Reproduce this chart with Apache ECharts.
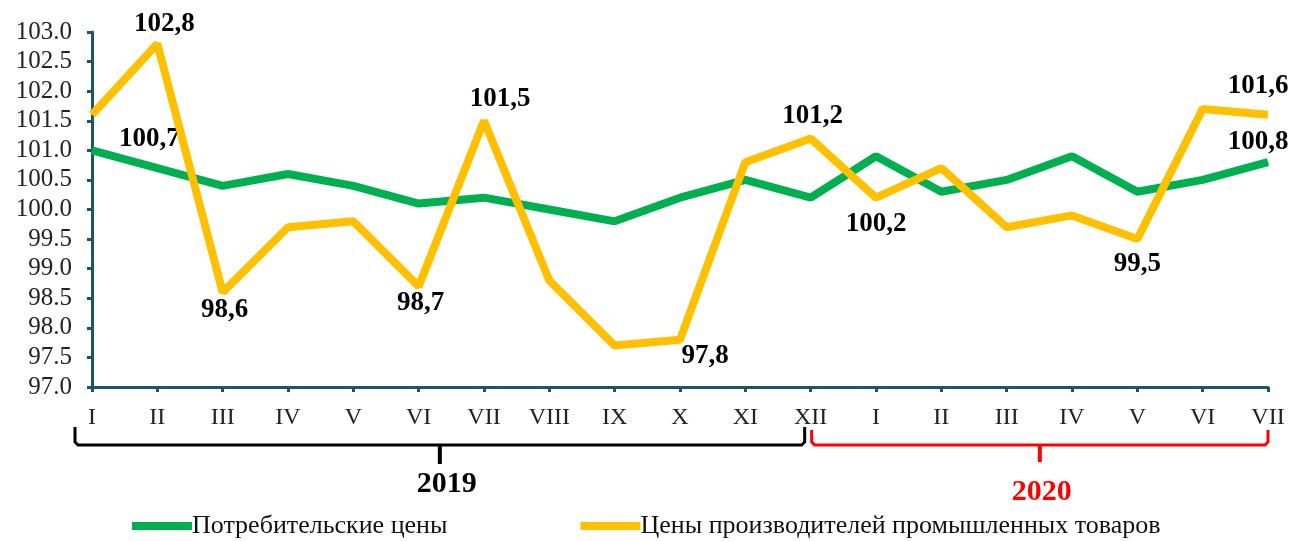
<!DOCTYPE html>
<html>
<head>
<meta charset="utf-8">
<script src="https://cdn.jsdelivr.net/npm/echarts@6/dist/echarts.min.js"></script>
<style>
  html, body { margin: 0; padding: 0; background: #fff; }
  #chart { width: 1293px; height: 541px; }
</style>
</head>
<body>
<div id="chart"></div>
<script>
const months = ['I', 'II', 'III', 'IV', 'V', 'VI', 'VII', 'VIII', 'IX', 'X', 'XI', 'XII',
  'I', 'II', 'III', 'IV', 'V', 'VI', 'VII']
const consumer = [101.0, 100.7, 100.4, 100.6, 100.4, 100.1, 100.2, 100.0, 99.8, 100.2, 100.5, 100.2,
  100.9, 100.3, 100.5, 100.9, 100.3, 100.5, 100.8]
const producer = [101.6, 102.8, 98.6, 99.7, 99.8, 98.7, 101.5, 98.8, 97.7, 97.8, 100.8, 101.2,
  100.2, 100.7, 99.7, 99.9, 99.5, 101.7, 101.6]
const seriesNames = ['Потребительские цены', 'Цены производителей промышленных товаров']
const years = ['2019', '2020']

// which points get a value label, and where it sits
const consumerLabels = {
  1: { position: 'top', offset: [-8, 0], distance: 15 },
  18: { position: 'top', offset: [-10, 0], distance: 6 }
}
const producerLabels = {
  1: { position: 'top', offset: [7, 0], distance: 6 },
  2: { position: 'bottom', offset: [2, 0], distance: 4 },
  5: { position: 'bottom', offset: [2, 0], distance: 3 },
  6: { position: 'top', offset: [16, 0], distance: 8 },
  9: { position: 'bottom', offset: [25, 0], distance: 2 },
  11: { position: 'top', offset: [2, 0], distance: 8 },
  12: { position: 'bottom', offset: [0, 0], distance: 12 },
  16: { position: 'bottom', offset: [0, 0], distance: 11 },
  18: { position: 'top', offset: [-10, 0], distance: 15 }
}

const serif = '"Liberation Serif", "Times New Roman", serif'
const axisColor = '#1f5566'

function buildData(values, labels) {
  return values.map((v, i) => {
    const item = { value: v }
    if (labels[i]) {
      item.label = Object.assign({ show: true }, labels[i])
    }
    return item
  })
}

const valueLabel = {
  show: false,
  fontFamily: serif,
  fontSize: 27,
  fontWeight: 'bold',
  color: '#000',
  formatter: p => p.value.toFixed(1).replace('.', ',')
}

const chart = echarts.init(document.getElementById('chart'))

chart.setOption({
  animation: false,
  grid: { left: 92, right: 25, top: 32, bottom: 154 },
  legend: {
    data: seriesNames,
    left: 132,
    top: 513,
    padding: 0,
    itemWidth: 60,
    itemHeight: 8,
    itemGap: 133,
    icon: 'rect',
    textStyle: { fontFamily: serif, fontSize: 26, color: '#111', padding: [0, 0, 0, -5] }
  },
  xAxis: {
    type: 'category',
    data: months,
    boundaryGap: false,
    axisLine: { lineStyle: { color: axisColor, width: 3 } },
    axisTick: { show: true, length: 5, lineStyle: { color: axisColor, width: 3 } },
    axisLabel: { margin: 19, fontFamily: serif, fontSize: 24, color: '#222' }
  },
  yAxis: {
    type: 'value',
    min: 97,
    max: 103,
    interval: 0.5,
    axisLine: { show: true, lineStyle: { color: axisColor, width: 3 } },
    axisTick: { show: true, length: 5, lineStyle: { color: axisColor, width: 3 } },
    splitLine: { show: false },
    axisLabel: {
      margin: 20,
      fontFamily: serif,
      fontSize: 25,
      color: '#222',
      formatter: v => v.toFixed(1)
    }
  },
  series: [
    {
      name: seriesNames[0],
      type: 'line',
      data: buildData(consumer, consumerLabels),
      symbol: 'circle',
      symbolSize: 1,
      showSymbol: true,
      color: '#00b050',
      lineStyle: { width: 8, color: '#00b050' },
      label: valueLabel,
      z: 2
    },
    {
      name: seriesNames[1],
      type: 'line',
      data: buildData(producer, producerLabels),
      symbol: 'circle',
      symbolSize: 1,
      showSymbol: true,
      color: '#ffc000',
      lineStyle: { width: 8, color: '#ffc000' },
      label: valueLabel,
      z: 3
    }
  ]
})

// year brackets under the axis, placed from the category scale
function px(i) {
  return chart.convertToPixel({ xAxisIndex: 0 }, i)
}
function bracket(x1, x2, top, bottom, notch, color) {
  const mid = (x1 + x2) / 2
  return [
    {
      type: 'polyline',
      shape: { points: [[x1, top], [x1, bottom - 3], [x1 + 3, bottom], [x2 - 3, bottom], [x2, bottom - 3], [x2, top]] },
      style: { stroke: color, lineWidth: 3, fill: null }
    },
    {
      type: 'line',
      shape: { x1: mid, y1: bottom, x2: mid, y2: notch },
      style: { stroke: color, lineWidth: 4 }
    }
  ]
}
const b1 = bracket(px(0) - 17, px(11) - 6, 427, 445, 464, '#000')
const b2 = bracket(px(11) + 1, px(18), 430, 445, 462, '#ff0000')
const mid1 = (px(0) - 17 + px(11) - 6) / 2
const mid2 = (px(11) + 1 + px(18)) / 2

chart.setOption({
  graphic: b1.concat(b2).concat([
    {
      type: 'text',
      x: mid1 + 7,
      y: 484,
      style: {
        text: years[0], fontFamily: serif, fontSize: 30, fontWeight: 'bold',
        fill: '#000', align: 'center', verticalAlign: 'middle'
      }
    },
    {
      type: 'text',
      x: mid2 + 2,
      y: 492,
      style: {
        text: years[1], fontFamily: serif, fontSize: 30, fontWeight: 'bold',
        fill: '#ff0000', align: 'center', verticalAlign: 'middle'
      }
    }
  ])
})
</script>
</body>
</html>
